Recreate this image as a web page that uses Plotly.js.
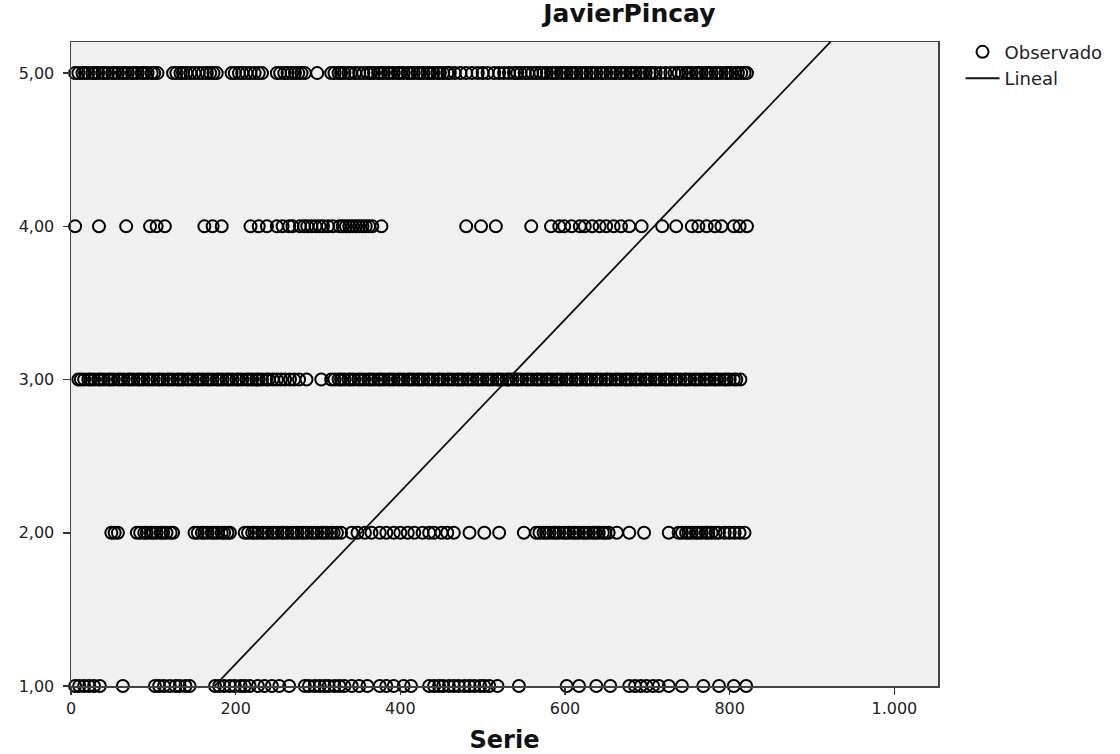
<!DOCTYPE html>
<html>
<head>
<meta charset="utf-8">
<script src="https://cdn.plot.ly/plotly-3.0.1.min.js"></script>
<style>
  html, body { margin: 0; padding: 0; background: #ffffff; }
  #chart { width: 1120px; height: 754px; }
</style>
</head>
<body>
<div id="chart"></div>
<script>
const serie_y1 = [5,10,16,22,28,35,63,102,107,113,120,127,132,139,144,175,180,186,193,199,206,211,217,227,235,244,253,265,284,289,296,302,308,313,320,326,332,341,350,360,375,383,392,404,413,435,441,447,452,459,465,471,478,484,490,497,502,508,518,544,602,617,638,655,678,685,692,699,707,714,726,742,768,787,805,820];
const serie_y2 = [49,53,57,80,84,89,92,97,100,104,109,112,116,121,124,150,154,159,162,166,171,174,178,183,186,190,193,211,215,220,223,227,232,235,239,244,247,251,256,259,263,268,271,275,280,283,287,292,295,299,304,307,311,316,319,323,328,341,348,357,365,375,383,392,400,409,417,427,435,441,450,457,465,484,502,520,550,565,569,574,577,581,586,589,593,598,601,605,610,613,617,622,625,629,634,637,641,646,649,653,663,678,696,726,738,742,747,750,754,759,762,766,771,774,778,783,787,794,800,806,812,818];
const serie_y3 = [9,12,16,21,24,28,33,36,40,45,48,52,57,60,64,69,72,76,81,84,88,93,96,100,105,108,112,117,120,124,129,132,136,141,144,148,153,156,160,165,168,172,177,180,184,189,192,196,201,204,208,213,216,220,225,228,232,237,240,245,250,255,260,266,271,277,286,304,316,320,325,328,332,337,340,344,349,352,356,361,364,368,373,376,380,385,388,392,397,400,404,409,412,416,421,424,428,433,436,440,445,448,452,457,460,464,469,472,476,481,484,488,493,496,500,505,508,512,517,520,524,529,532,536,541,544,548,553,556,560,565,568,572,577,580,584,589,592,596,601,604,608,613,616,620,625,628,632,637,640,644,649,652,656,661,664,668,673,676,680,685,688,692,697,700,704,709,712,716,721,724,728,733,736,740,745,748,752,757,760,764,769,772,776,781,784,788,793,796,800,805,808,813];
const serie_y4 = [5,34,67,96,104,114,162,172,183,218,228,238,250,257,265,269,278,283,287,292,297,302,306,312,318,326,330,334,338,342,346,350,354,358,362,366,377,480,498,516,559,583,593,599,608,618,624,633,642,650,659,668,678,693,718,735,754,762,772,782,790,805,812,821];
const serie_y5 = [5,9,14,17,21,26,29,33,38,41,45,50,53,57,62,65,69,74,77,81,86,89,93,98,101,105,124,128,133,136,140,145,150,155,160,165,169,173,177,195,199,204,208,213,218,223,228,232,250,254,259,263,268,272,276,280,284,299,316,320,325,328,332,337,340,345,350,355,360,364,368,373,376,380,385,388,392,397,400,404,409,412,416,421,424,428,433,436,440,445,448,452,457,460,466,473,480,487,494,500,506,514,520,526,532,538,542,546,551,555,560,565,570,574,578,583,586,590,595,598,602,607,610,614,619,622,626,631,634,638,643,646,650,655,658,662,667,670,674,679,682,686,691,694,698,703,706,710,716,722,728,733,738,742,747,750,754,759,762,766,771,774,778,783,786,790,795,798,802,807,810,814,818,821];

// Response levels and tick labels
const levels = [1, 2, 3, 4, 5];
const xTicks = [0, 200, 400, 600, 800, 1000];
const yTicks = [1, 2, 3, 4, 5];

// Linear fit ("Lineal") coefficients
const linIntercept = 0.02;
const linSlope = 0.00562;
const xRange = [0, 1053];
const yRange = [1, 5.203];

const groups = [serie_y1, serie_y2, serie_y3, serie_y4, serie_y5];
const obsX = [], obsY = [];
groups.forEach((arr, i) => { arr.forEach(v => { obsX.push(v); obsY.push(levels[i]); }); });

const lineX = xRange.slice();
const lineY = lineX.map(x => linIntercept + linSlope * x);

const traces = [
  {
    type: 'scatter', mode: 'markers', name: 'Observado',
    x: obsX, y: obsY, cliponaxis: false,
    marker: { symbol: 'circle-open', size: 12, color: '#000000', line: { width: 2, color: '#000000' } },
    hoverinfo: 'x+y'
  },
  {
    type: 'scatter', mode: 'lines', name: 'Lineal',
    x: lineX, y: lineY,
    line: { color: '#111111', width: 1.8 },
    hoverinfo: 'skip'
  }
];

const layout = {
  width: 1120, height: 754,
  margin: { l: 71, r: 180, t: 42, b: 68, pad: 0 },
  paper_bgcolor: '#ffffff',
  plot_bgcolor: '#f0f0f0',
  separators: ',.',
  font: { family: 'DejaVu Sans, Arial, sans-serif', color: '#222222', size: 16 },
  showlegend: true,
  title: {
    text: 'JavierPincay',
    font: { size: 25, weight: 'bold', color: '#111111' },
    x: 0.644, xref: 'paper', xanchor: 'center',
    y: 0.982, yref: 'container', yanchor: 'middle'
  },
  xaxis: {
    range: xRange, tickvals: xTicks, tickformat: ',d',
    ticks: 'outside', ticklen: 7, tickwidth: 1.5, tickcolor: '#333333',
    showline: true, mirror: true, linecolor: '#444444', linewidth: 1.5,
    showgrid: false, zeroline: false,
    tickfont: { size: 16, color: '#222222' },
    title: { text: 'Serie', font: { size: 24, weight: 'bold', color: '#111111' }, standoff: 16 }
  },
  yaxis: {
    range: yRange, tickvals: yTicks, tickformat: '.2f',
    ticks: 'outside', ticklen: 7, tickwidth: 1.5, tickcolor: '#333333',
    showline: true, mirror: true, linecolor: '#444444', linewidth: 1.5,
    showgrid: false, zeroline: false,
    ticklabelstandoff: 5,
    tickfont: { size: 16, color: '#222222' }
  },
  legend: {
    x: 1.026, y: 1.013, xanchor: 'left', yanchor: 'top',
    bgcolor: 'rgba(0,0,0,0)', borderwidth: 0,
    font: { size: 18, color: '#222222' },
    itemwidth: 34
  }
};

Plotly.newPlot('chart', traces, layout, { displayModeBar: false, staticPlot: true });
</script>
</body>
</html>
